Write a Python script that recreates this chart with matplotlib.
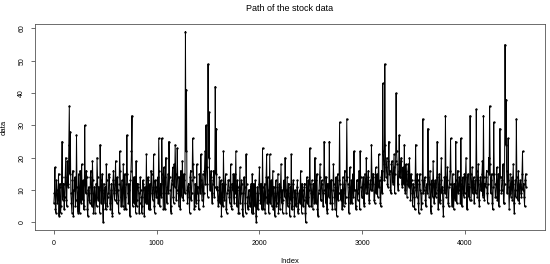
import numpy as np
import matplotlib
matplotlib.use("Agg")
import matplotlib.pyplot as plt

# stock data
# data_a: observations 1, 11, 21, ... ; data_b: observations 6, 16, 26, ...
step = 10
data_a = [
    6, 17, 3, 10, 8, 2, 12, 5, 25, 9,
    4, 14, 7, 19, 11, 36, 28, 6, 13, 2,
    10, 5, 27, 8, 15, 3, 12, 18, 7, 4,
    30, 9, 14, 2, 11, 6, 16, 5, 13, 8,
    3, 12, 20, 7, 10, 24, 6, 15, 0, 9,
    11, 18, 5, 9, 14, 4, 12, 2, 16, 7,
    19, 6, 10, 3, 22, 8, 13, 5, 11, 15,
    4, 27, 9, 12, 2, 16, 33, 10, 6, 14,
    19, 7, 11, 3, 14, 8, 5, 12, 2, 10,
    21, 6, 13, 9, 4, 15, 7, 21, 3, 11,
    8, 14, 26, 5, 12, 26, 9, 17, 4, 20,
    6, 15, 25, 10, 3, 13, 8, 18, 24, 7,
    23, 9, 14, 4, 11, 19, 7, 13, 59, 41,
    6, 12, 3, 16, 9, 26, 14, 5, 10, 18,
    11, 4, 13, 21, 7, 15, 9, 22, 30, 12,
    49, 34, 10, 16, 6, 13, 8, 42, 29, 11,
    5, 14, 9, 2, 12, 22, 7, 15, 3, 10,
    13, 6, 18, 4, 10, 8, 15, 22, 5, 11,
    3, 17, 9, 12, 2, 14, 6, 21, 8, 4,
    10, 5, 12, 15, 3, 9, 13, 0, 11, 7,
    17, 6, 10, 23, 4, 12, 8, 21, 14, 3,
    21, 9, 5, 16, 11, 2, 13, 6, 15, 8,
    4, 18, 10, 7, 12, 20, 3, 14, 9, 6,
    11, 21, 5, 13, 2, 9, 6, 13, 4, 10,
    16, 3, 10, 7, 12, 0, 14, 8, 5, 23,
    9, 13, 4, 11, 20, 6, 15, 2, 10, 18,
    7, 12, 5, 25, 9, 14, 3, 11, 25, 6,
    13, 4, 18, 8, 11, 2, 15, 9, 31, 7,
    10, 14, 5, 16, 8, 32, 12, 3, 17, 9,
    6, 15, 22, 10, 4, 13, 9, 16, 22, 11,
    8, 14, 5, 12, 20, 9, 16, 6, 13, 24,
    10, 15, 6, 17, 11, 8, 21, 13, 5, 16,
    43, 18, 49, 14, 20, 11, 25, 16, 9, 19,
    12, 21, 15, 40, 18, 10, 27, 14, 20, 11,
    16, 24, 9, 15, 12, 18, 20, 7, 13, 5,
    11, 4, 24, 8, 13, 3, 15, 9, 6, 32,
    10, 14, 5, 12, 29, 8, 16, 3, 11, 19,
    6, 13, 9, 25, 4, 15, 7, 20, 11, 2,
    14, 33, 8, 17, 5, 12, 26, 9, 15, 4,
    11, 25, 6, 16, 10, 13, 26, 5, 14, 8,
    9, 20, 4, 15, 11, 33, 7, 17, 12, 6,
    13, 35, 8, 18, 5, 14, 10, 19, 33, 7,
    11, 16, 6, 20, 36, 9, 15, 4, 31, 12,
    8, 17, 12, 5, 29, 14, 10, 18, 6, 55,
    38, 9, 26, 4, 15, 11, 7, 18, 3, 13,
    32, 10, 16, 6, 13, 8, 22, 12, 5, 15,
]
data_b = [
    9, 4, 13, 6, 15, 11, 3, 14, 7, 12,
    8, 20, 5, 12, 24, 15, 9, 3, 16, 10,
    14, 7, 11, 3, 9, 16, 6, 10, 13, 5,
    12, 16, 4, 10, 7, 14, 9, 19, 3, 11,
    8, 5, 14, 11, 3, 13, 10, 4, 12, 6,
    4, 13, 8, 15, 6, 10, 3, 13, 9, 12,
    10, 14, 7, 12, 16, 5, 9, 18, 4, 8,
    12, 15, 6, 10, 13, 22, 5, 14, 11, 3,
    5, 12, 9, 6, 10, 3, 13, 8, 11, 6,
    7, 14, 4, 12, 16, 9, 11, 5, 13, 8,
    13, 6, 16, 10, 8, 15, 4, 12, 14, 9,
    11, 9, 14, 5, 12, 17, 6, 11, 15, 10,
    14, 5, 10, 16, 8, 12, 15, 9, 22, 10,
    11, 8, 14, 7, 13, 18, 4, 12, 6, 9,
    7, 15, 9, 13, 11, 5, 16, 12, 17, 8,
    20, 13, 14, 9, 12, 16, 11, 15, 10, 7,
    10, 6, 13, 8, 5, 11, 12, 4, 9, 13,
    8, 11, 5, 12, 15, 6, 9, 10, 13, 3,
    10, 6, 13, 4, 9, 11, 3, 12, 5, 10,
    6, 11, 3, 8, 12, 5, 2, 9, 4, 12,
    9, 12, 4, 11, 8, 3, 14, 6, 10, 7,
    6, 13, 10, 4, 7, 9, 5, 11, 3, 12,
    11, 6, 3, 13, 8, 10, 9, 5, 12, 2,
    7, 4, 12, 8, 10, 5, 11, 3, 9, 6,
    9, 12, 5, 11, 3, 8, 6, 13, 10, 12,
    5, 8, 12, 6, 10, 13, 4, 9, 14, 7,
    13, 9, 10, 14, 6, 4, 12, 8, 11, 13,
    6, 10, 12, 4, 14, 9, 7, 13, 12, 10,
    4, 9, 12, 6, 13, 14, 8, 11, 6, 13,
    12, 8, 10, 5, 13, 7, 11, 4, 14, 8,
    12, 6, 15, 9, 11, 14, 7, 12, 10, 15,
    14, 7, 12, 9, 15, 13, 11, 6, 14, 9,
    22, 13, 24, 17, 12, 19, 15, 10, 18, 14,
    17, 9, 19, 22, 12, 16, 14, 19, 12, 17,
    12, 10, 18, 8, 16, 11, 13, 15, 9, 12,
    8, 13, 10, 15, 6, 12, 10, 4, 13, 9,
    13, 7, 11, 9, 14, 12, 5, 13, 8, 12,
    11, 8, 14, 10, 12, 6, 13, 9, 5, 10,
    9, 14, 13, 6, 11, 16, 12, 5, 10, 12,
    7, 13, 10, 9, 14, 6, 12, 11, 9, 15,
    14, 10, 12, 8, 7, 15, 12, 9, 14, 10,
    9, 16, 13, 7, 12, 10, 15, 8, 14, 12,
    14, 9, 12, 15, 18, 13, 6, 11, 15, 8,
    12, 7, 15, 10, 14, 9, 13, 6, 12, 24,
    16, 13, 11, 9, 8, 14, 12, 6, 10, 8,
    14, 7, 11, 12, 9, 15, 10, 8, 13, 11,
]
# merge the two read-off series in observation order
data = np.column_stack([data_a, data_b]).ravel()
index = np.arange(len(data)) * (step // 2) + 1
xticks = [0, 1000, 2000, 3000, 4000]
yticks = [0, 10, 20, 30, 40, 50, 60]

plt.rcParams['font.family'] = ['Liberation Sans', 'DejaVu Sans']

fig = plt.figure(figsize=(5.5, 2.64), dpi=100)
ax = fig.add_axes([35 / 550, 1 - 230 / 264, 510 / 550, 206 / 264])

ax.plot(index, data, color='black', linewidth=0.7, marker='o',
        markersize=1.3, markeredgewidth=0.3)
ax.margins(x=0.04, y=0.04)

ax.set_xticks(xticks)
ax.set_yticks(yticks)
ax.set_yticklabels([str(v) for v in yticks], rotation=90, va='center')
ax.tick_params(axis='both', direction='out', length=3, width=0.5,
               labelsize=5, pad=4, color='#333333')
for s in ax.spines.values():
    s.set_linewidth(0.6)
    s.set_color('#555555')

ax.set_xlabel('Index', fontsize=5.5, labelpad=8)
ax.set_ylabel('data', fontsize=5.5, labelpad=8)
fig.suptitle('Path of the stock data', fontsize=6.5, x=290 / 550, y=0.985)

fig.savefig('out.png', dpi=100)
